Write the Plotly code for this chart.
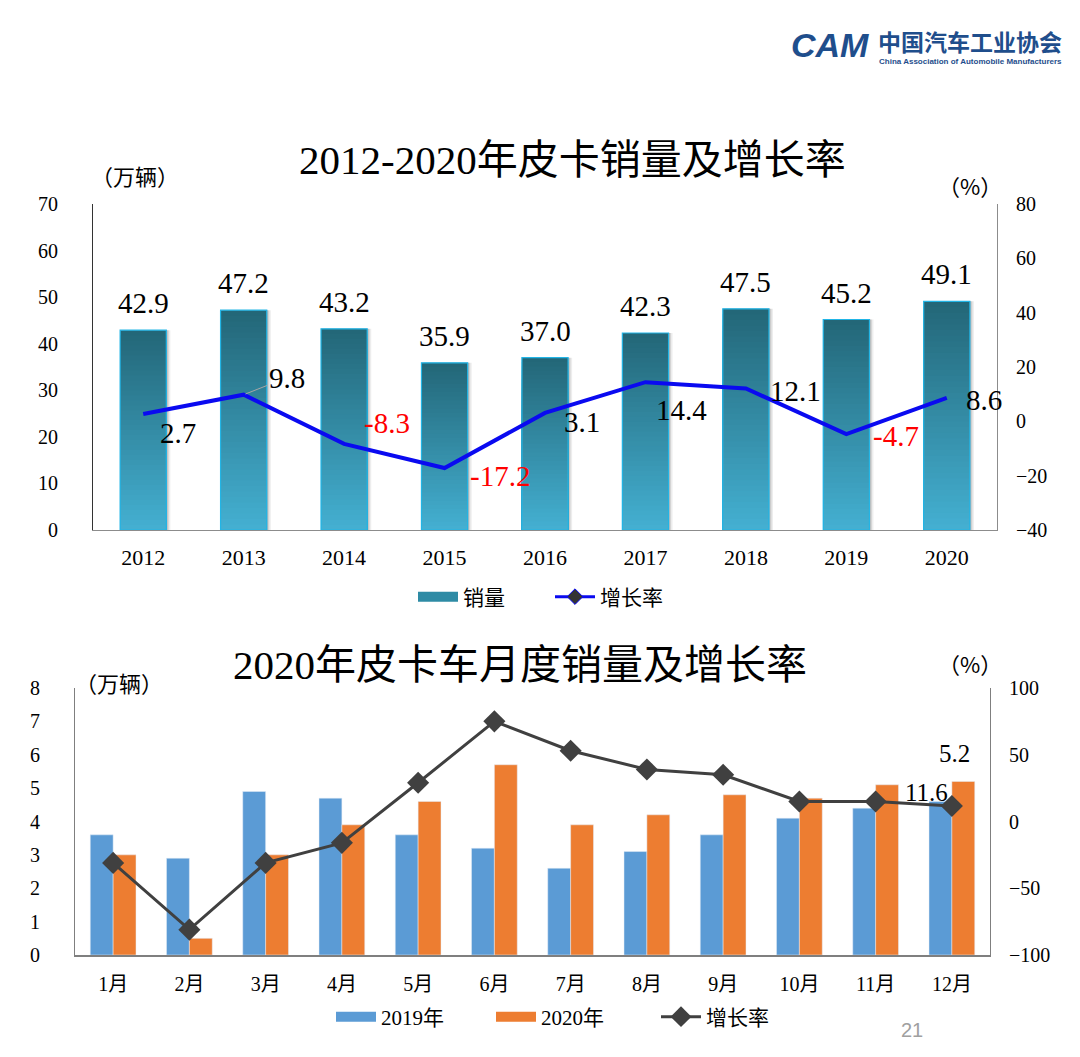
import plotly.graph_objects as go

# ---------------- data ----------------
years = ["2012", "2013", "2014", "2015", "2016", "2017", "2018", "2019", "2020"]
sales = [42.9, 47.2, 43.2, 35.9, 37.0, 42.3, 47.5, 45.2, 49.1]
growth = [2.7, 9.8, -8.3, -17.2, 3.1, 14.4, 12.1, -4.7, 8.6]

months = ["1月", "2月", "3月", "4月", "5月", "6月", "7月", "8月", "9月", "10月", "11月", "12月"]
sales_2019 = [3.6, 2.9, 4.9, 4.7, 3.6, 3.2, 2.6, 3.1, 3.6, 4.1, 4.4, 4.6]
sales_2020 = [3.0, 0.5, 3.0, 3.9, 4.6, 5.7, 3.9, 4.2, 4.8, 4.7, 5.1, 5.2]
growth_monthly = [-31, -81, -31, -16, 29, 75, 53, 39, 35, 15, 15, 11.6]

# ---------------- helpers ----------------
W, H = 1080, 1057


def px_x(p):
    return p / W


def px_y(p):
    return 1 - p / H


SERIF = "Liberation Serif, Noto Sans CJK SC"
CJK = "Noto Sans CJK SC, Liberation Serif"

fig = go.Figure()

# ---------------- top chart: shadow + gradient bars ----------------
for off, alpha in ((-0.19, 0.07), (-0.205, 0.10), (-0.217, 0.12)):
    fig.add_trace(go.Bar(
        x=years, y=sales, marker=dict(color="rgba(0,0,0,%.2f)" % alpha, line=dict(width=0)),
        width=0.46, offset=off, xaxis="x", yaxis="y", showlegend=False, hoverinfo="skip"))

N = 40
top_rgb = (0x23, 0x66, 0x77)
bot_rgb = (0x44, 0xB0, 0xD2)
for k in range(N, 0, -1):
    t = (k - 0.5) / N
    c = tuple(int(round(b + (a - b) * t)) for a, b in zip(top_rgb, bot_rgb))
    fig.add_trace(go.Bar(
        x=years, y=[v * k / N for v in sales],
        marker=dict(color="rgb(%d,%d,%d)" % c, line=dict(width=0)),
        width=0.46, offset=-0.23, xaxis="x", yaxis="y",
        showlegend=False, hoverinfo="skip"))
# outline
fig.add_trace(go.Bar(
    x=years, y=sales,
    marker=dict(color="rgba(0,0,0,0)", line=dict(color="#22B5E6", width=1.2)),
    width=0.46, offset=-0.23, xaxis="x", yaxis="y", showlegend=False, hoverinfo="skip"))
# legend proxy for bars
fig.add_trace(go.Scatter(
    x=[None], y=[None], mode="lines", name="销量",
    line=dict(color="#2E8BA5", width=11),
    xaxis="x", yaxis="y", legend="legend"))

# growth line
fig.add_trace(go.Scatter(
    x=years, y=growth, mode="lines", xaxis="x", yaxis="y2",
    line=dict(color="#0A0AF0", width=4), showlegend=False))
fig.add_trace(go.Scatter(
    x=[None], y=[None], mode="lines+markers", name="增长率",
    line=dict(color="#0A0AF0", width=3),
    marker=dict(symbol="diamond", size=12, color="#333333", line=dict(color="#0A0AF0", width=1)),
    xaxis="x", yaxis="y2", legend="legend3"))

# ---------------- bottom chart ----------------
fig.add_trace(go.Bar(
    x=months, y=sales_2019, name="2019年", marker=dict(color="#5B9BD5"),
    width=0.3, offset=-0.3, xaxis="x2", yaxis="y3", showlegend=False))
fig.add_trace(go.Bar(
    x=months, y=sales_2020, name="2020年", marker=dict(color="#ED7D31"),
    width=0.3, offset=0.0, xaxis="x2", yaxis="y3", showlegend=False))
fig.add_trace(go.Scatter(
    x=months, y=growth_monthly, name="增长率", mode="lines+markers",
    line=dict(color="#404040", width=3),
    marker=dict(symbol="diamond", size=17, color="#404040"),
    xaxis="x2", yaxis="y4", legend="legend6"))
# legend proxies for bottom bars
fig.add_trace(go.Scatter(x=[None], y=[None], mode="lines", name="2019年",
                         line=dict(color="#5B9BD5", width=11), xaxis="x2", yaxis="y3", legend="legend4"))
fig.add_trace(go.Scatter(x=[None], y=[None], mode="lines", name="2020年",
                         line=dict(color="#ED7D31", width=11), xaxis="x2", yaxis="y3", legend="legend5"))

# ---------------- annotations ----------------
ann = []
# top bar value labels
for i, v in enumerate(sales):
    ann.append(dict(x=i, y=v, xref="x", yref="y", text=f"{v:.1f}", showarrow=False,
                    yanchor="bottom", yshift=9, font=dict(family=SERIF, size=29, color="black")))
# top growth labels
g_dx = [35, 43, 43, 55, 37, 36, 50, 50, 37]
g_dy = [-19, 17, 21, -8, -9, -28, -3, -2, -2]
for i, (g, dx, dy) in enumerate(zip(growth, g_dx, g_dy)):
    a = dict(x=i, y=g, xref="x", yref="y2", text=f"{g:.1f}", showarrow=False,
             xshift=dx, yshift=dy, xanchor="center", yanchor="middle",
             font=dict(family=SERIF, size=29, color="#FF0000" if g < 0 else "black"))
    if i == 1:
        # label with a leader line
        a.update(showarrow=True, xshift=0, yshift=0, ax=dx, ay=-dy, arrowhead=0,
                 arrowwidth=1, arrowcolor="#A6A6A6", standoff=2)
    ann.append(a)
# bottom labels
last = len(months) - 1
ann.append(dict(x=last, y=sales_2020[-1], xref="x2", yref="y3", text=f"{sales_2020[-1]:.1f}",
                showarrow=False, xshift=3, yshift=28, yanchor="middle",
                font=dict(family=SERIF, size=25, color="black")))
ann.append(dict(x=last, y=growth_monthly[-1], xref="x2", yref="y4", text=f"{growth_monthly[-1]:.1f}",
                showarrow=False, xshift=-25, yshift=14, yanchor="middle",
                font=dict(family=SERIF, size=25, color="black")))


# titles & units
def txt(x, y, s, size, color="black", family=CJK, **kw):
    d = dict(x=px_x(x), y=px_y(y), xref="paper", yref="paper", text=s, showarrow=False,
             xanchor="center", yanchor="middle", font=dict(family=family, size=size, color=color))
    d.update(kw)
    return d


ann.append(txt(572, 160, "2012-2020年皮卡销量及增长率", 41, family=SERIF))
ann.append(txt(520, 665, "2020年皮卡车月度销量及增长率", 41, family=SERIF))
ann.append(txt(135, 175, "（万辆）", 22))
ann.append(txt(119, 682, "（万辆）", 22))
ann.append(txt(970, 185, "（%）", 22))
ann.append(txt(970, 663, "（%）", 22))
# logo
ann.append(txt(970, 41, "<b>中国汽车工业协会</b>", 23, color="#1F4E8C"))
ann.append(txt(970, 61, "<b>China Association of Automobile Manufacturers</b>", 8, color="#1F4E8C",
               family="Liberation Sans"))
ann.append(txt(830, 45, "<b><i>CAM</i></b>", 34, color="#1F4E8C", family="Liberation Sans"))
ann.append(txt(912, 1030, "21", 20, color="#A0A0A0", family="Liberation Sans"))


def leg(x, y, family=CJK):
    return dict(orientation="h", x=px_x(x), y=px_y(y), xanchor="left", yanchor="middle",
                font=dict(family=family, size=21, color="black"), bgcolor="rgba(0,0,0,0)",
                itemwidth=40)


# ---------------- layout ----------------
tick_font = dict(family=SERIF, size=20, color="black")
fig.update_layout(
    width=W, height=H,
    margin=dict(l=0, r=0, t=0, b=0, autoexpand=False),
    paper_bgcolor="white", plot_bgcolor="white",
    font=dict(family=SERIF, color="black"),
    xaxis=dict(domain=[px_x(93), px_x(997)], anchor="y", type="category", range=[-0.5, 8.5],
               showline=True, linecolor="#8C8C8C", linewidth=1, showgrid=False, ticks="",
               automargin=False,
               tickfont=dict(family=SERIF, size=22, color="black"), ticklabelstandoff=8),
    yaxis=dict(domain=[px_y(530), px_y(204)], anchor="x", range=[0, 70], dtick=10,
               showline=True, linecolor="#333333", linewidth=1, showgrid=False, zeroline=False,
               automargin=False, ticks="", tickfont=tick_font, ticklabelstandoff=30),
    yaxis2=dict(overlaying="y", side="right", anchor="x", range=[-40, 80], dtick=20,
                showline=True, linecolor="#8C8C8C", linewidth=1, showgrid=False, zeroline=False,
                automargin=False, ticks="", tickfont=tick_font, ticklabelstandoff=14),
    xaxis2=dict(domain=[px_x(75), px_x(990)], anchor="y3", type="category", range=[-0.5, 11.5],
                showline=True, linecolor="#7F7F7F", linewidth=2, showgrid=False, ticks="",
                automargin=False,
                tickfont=dict(family=SERIF, size=20, color="black"), ticklabelstandoff=10),
    yaxis3=dict(domain=[px_y(955), px_y(688)], anchor="x2", range=[0, 8], dtick=1,
                showline=True, linecolor="#7F7F7F", linewidth=1, showgrid=False, zeroline=False,
                automargin=False, ticks="", tickfont=tick_font, ticklabelstandoff=30),
    yaxis4=dict(overlaying="y3", side="right", anchor="x2", range=[-100, 100], dtick=50,
                showline=True, linecolor="#7F7F7F", linewidth=1, showgrid=False, zeroline=False,
                automargin=False, ticks="", tickfont=tick_font, ticklabelstandoff=14),
    legend=leg(413, 597),
    legend3=leg(550, 597),
    legend4=leg(331, 1017, SERIF),
    legend5=leg(491, 1017, SERIF),
    legend6=leg(656, 1017, SERIF),
    annotations=ann,
    showlegend=True,
)

fig.write_html("out.html", config={"displayModeBar": False},
               post_script="document.body.style.margin='0';")
